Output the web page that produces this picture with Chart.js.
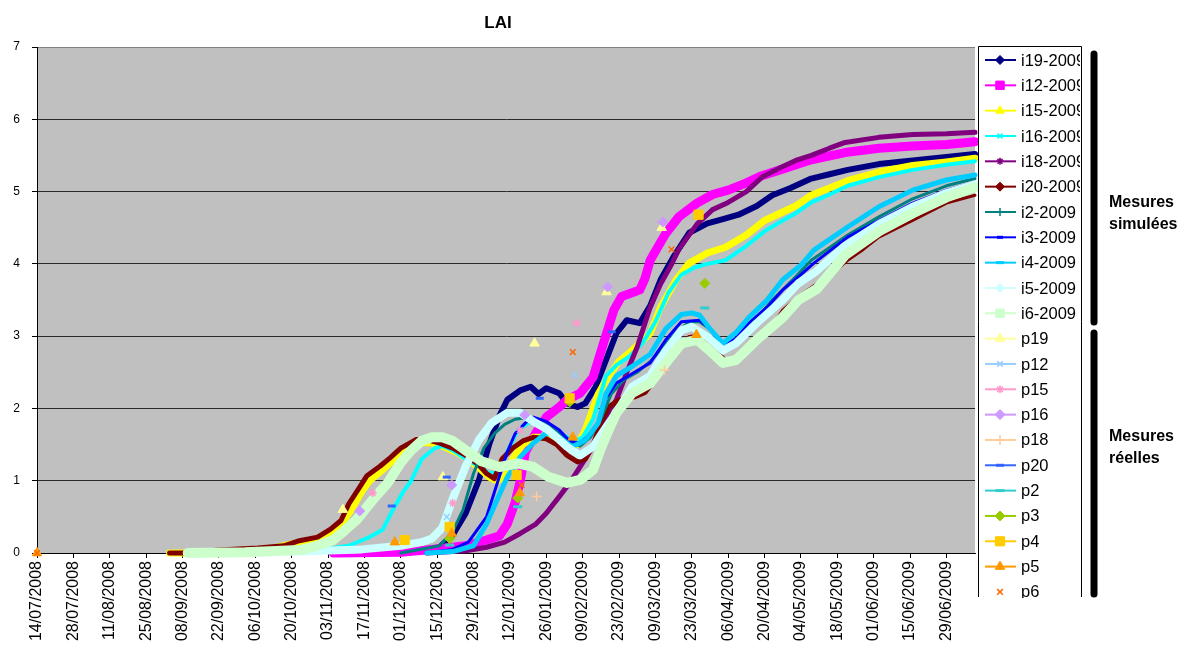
<!DOCTYPE html>
<html>
<head>
<meta charset="utf-8">
<title>LAI</title>
<script src="https://cdn.jsdelivr.net/npm/chart.js@4.4.0/dist/chart.umd.min.js"></script>
<style>
  html, body { margin: 0; padding: 0; background: #ffffff; }
  canvas { display: block; }
</style>
</head>
<body>
<canvas id="lai" width="1184" height="648"></canvas>
<script>
// Day 0 = 14/07/2008; x values are days since that date.
const startYear = 2008, startMonth = 6, startDay = 14;
const dayTickStep = 14;
const dayMax = 361;
const yTicks = [0, 1, 2, 3, 4, 5, 6, 7];

// ---- simulated LAI (one reading list per plot) ----
const i19Days = [132,145,155,160,165,170,174,178,181,186,190,193,196,201,204,208,211,215,219,223,227,232,236,240,245,251,258,264,270,277,283,290,298,305,312,324,337,350,361];
const i19Vals = [0,0.02,0.08,0.25,0.55,1.0,1.5,1.9,2.12,2.25,2.3,2.2,2.28,2.21,2.07,2.02,2.07,2.3,2.67,3.04,3.22,3.18,3.42,3.78,4.1,4.43,4.56,4.62,4.68,4.8,4.95,5.05,5.18,5.24,5.3,5.38,5.43,5.48,5.52];

const i12Days = [114,140,155,165,173,178,181,184,186,188,192,196,201,204,209,214,218,222,225,229,232,234,236,240,242,247,254,260,266,273,279,286,298,311,324,337,350,361];
const i12Vals = [0,0.01,0.06,0.1,0.18,0.24,0.4,0.7,1.0,1.4,1.66,1.88,2.02,2.12,2.21,2.43,2.9,3.36,3.55,3.6,3.64,3.8,4.05,4.3,4.42,4.65,4.84,4.96,5.02,5.12,5.22,5.3,5.44,5.54,5.6,5.63,5.65,5.69];

const i15Days = [51,58,70,90,101,108,113,117,121,125,128,133,137,141,147,151,156,161,166,170,174,177,180,183,187,191,196,200,204,208,211,216,220,224,229,236,240,246,251,258,265,273,280,286,292,298,305,312,324,337,350,361];
const i15Vals = [0,0,0.02,0.06,0.15,0.2,0.28,0.4,0.6,0.85,1.0,1.15,1.28,1.4,1.52,1.53,1.48,1.4,1.3,1.18,1.05,1.0,1.05,1.3,1.5,1.6,1.6,1.55,1.5,1.5,1.7,2.2,2.45,2.65,2.8,3.04,3.4,3.78,4.01,4.15,4.23,4.4,4.6,4.7,4.8,4.95,5.05,5.15,5.27,5.36,5.41,5.46];

const i16Days = [90,100,110,120,128,133,137,141,144,148,153,156,160,165,170,174,177,181,185,189,193,198,203,207,210,214,219,223,228,233,238,243,248,253,258,265,273,280,286,292,298,305,312,324,337,350,361];
const i16Vals = [0,0.02,0.05,0.1,0.22,0.32,0.6,0.85,1.0,1.3,1.45,1.48,1.42,1.3,1.2,1.1,1.12,1.4,1.7,1.8,1.85,1.75,1.62,1.55,1.6,1.85,2.45,2.6,2.72,2.9,3.2,3.6,3.85,3.95,4.0,4.05,4.25,4.45,4.58,4.7,4.85,4.96,5.08,5.2,5.3,5.37,5.42];

const i18Days = [150,165,173,180,186,192,196,201,205,209,214,218,223,227,231,236,240,244,247,254,260,266,273,279,286,292,298,305,311,324,337,350,361];
const i18Vals = [0,0.03,0.08,0.15,0.27,0.4,0.55,0.78,0.97,1.19,1.47,1.8,2.12,2.5,2.85,3.4,3.72,3.98,4.2,4.55,4.75,4.85,5.0,5.2,5.33,5.43,5.5,5.6,5.68,5.75,5.79,5.8,5.82];

const i20Days = [51,58,62,70,85,95,101,108,113,117,120,124,127,132,136,140,146,150,155,160,165,170,173,176,179,183,187,191,196,200,204,208,211,214,217,220,224,230,234,240,246,251,255,260,265,270,276,282,287,293,300,306,312,318,324,337,350,361];
const i20Vals = [0,0,0.02,0.04,0.07,0.1,0.17,0.22,0.33,0.45,0.68,0.9,1.07,1.2,1.32,1.45,1.57,1.57,1.52,1.45,1.35,1.22,1.1,1.03,1.3,1.45,1.55,1.6,1.58,1.5,1.35,1.26,1.3,1.5,1.8,2.02,2.12,2.16,2.22,2.5,2.8,2.98,3.0,2.85,2.65,2.7,2.9,3.1,3.36,3.55,3.72,3.87,4.05,4.2,4.37,4.6,4.84,4.95];

const i2Days = [140,155,160,164,168,172,176,180,184,188,192,196,201,205,209,213,217,221,226,231,236,241,246,251,255,259,263,266,270,276,283,290,298,312,324,337,350,361];
const i2Vals = [0,0.1,0.3,0.6,1.1,1.45,1.65,1.78,1.85,1.87,1.85,1.78,1.65,1.52,1.48,1.6,1.85,2.2,2.4,2.5,2.65,2.85,3.05,3.2,3.2,3.1,2.9,2.85,2.95,3.2,3.5,3.75,4.05,4.4,4.65,4.9,5.08,5.18];

const i3Days = [150,160,166,169,173,177,181,184,188,191,196,201,205,209,213,216,219,223,229,236,242,248,255,259,262,264,269,274,281,287,294,299,312,324,337,350,361];
const i3Vals = [0,0.05,0.15,0.3,0.5,0.95,1.4,1.65,1.8,1.88,1.82,1.7,1.55,1.52,1.65,1.8,2.15,2.35,2.48,2.63,2.95,3.2,3.22,3.1,2.95,2.85,2.97,3.18,3.4,3.64,3.85,4.01,4.37,4.6,4.84,5.02,5.13];

const i4Days = [150,160,168,173,177,181,186,191,196,201,206,211,216,219,223,229,236,242,248,252,255,259,264,269,274,281,287,294,299,312,324,337,350,361];
const i4Vals = [0,0.02,0.1,0.4,0.73,1.05,1.33,1.52,1.66,1.6,1.47,1.56,1.8,2.2,2.45,2.58,2.75,3.1,3.3,3.32,3.29,3.1,2.9,3.05,3.26,3.5,3.78,3.98,4.19,4.51,4.79,5.02,5.16,5.23];

const i5Days = [75,100,125,140,148,152,156,160,165,170,175,181,186,191,196,200,204,209,214,219,224,229,236,242,248,252,258,264,269,277,287,293,300,311,324,337,350,361];
const i5Vals = [0,0.02,0.05,0.1,0.15,0.2,0.35,0.75,1.2,1.56,1.8,1.94,1.94,1.82,1.72,1.6,1.47,1.35,1.47,1.74,2.0,2.3,2.45,2.8,3.08,3.13,2.99,2.8,2.9,3.18,3.5,3.73,3.9,4.25,4.55,4.79,4.98,5.1];

const i6Days = [58,80,101,108,114,118,123,130,135,140,144,148,152,156,160,165,171,178,185,191,197,204,209,214,217,220,223,229,236,242,248,254,259,264,269,277,287,293,300,311,324,337,350,361];
const i6Vals = [0,0.01,0.04,0.1,0.18,0.3,0.46,0.77,0.97,1.25,1.42,1.55,1.6,1.6,1.55,1.42,1.27,1.19,1.24,1.19,1.05,0.97,1.01,1.15,1.45,1.7,1.94,2.21,2.35,2.63,2.9,2.95,2.8,2.63,2.67,2.95,3.26,3.5,3.65,4.12,4.45,4.7,4.92,5.06];

// ---- field measurements ----
const p19Days = [117.7,156.2,191.5,219.2,240.4];
const p19Vals = [0.6,1.05,2.9,3.61,4.5];
const p12Days = [157.7,207];
const p12Vals = [0.5,2.46];
const p15Days = [129.2,160,185.8,207.7];
const p15Vals = [0.83,0.69,1.7,3.18];
const p16Days = [124.2,159.6,187.7,219.6,240.8];
const p16Vals = [0.58,0.94,1.91,3.68,4.58];
const p18Days = [192.3,241.5];
const p18Vals = [0.78,2.53];
const p20Days = [136.5,157.7,193.5,221.2];
const p20Vals = [0.65,1.05,2.14,3.06];
const p2Days = [158.8,185,257];
const p2Vals = [0.11,0.64,3.39];
const p3Days = [158.8,185,205,257];
const p3Vals = [0.2,0.76,2.09,3.73];
const p4Days = [141.5,158.8,184.6,205,254.6];
const p4Vals = [0.18,0.36,1.08,2.14,4.68];
const p5Days = [0,137.7,159.6,185.8,206.2,253.8];
const p5Vals = [0,0.15,0.27,0.83,1.6,3.02];
const p6Days = [0,186.5,206.2,244.2];
const p6Vals = [0,0.94,2.78,4.2];

const seriesNames = ['i19-2009','i12-2009','i15-2009','i16-2009','i18-2009','i20-2009','i2-2009','i3-2009','i4-2009','i5-2009','i6-2009',
                     'p19','p12','p15','p16','p18','p20','p2','p3','p4','p5','p6'];

// ---- helpers ----
function toPoints(days, vals) { return days.map((d, k) => ({ x: d, y: vals[k] })); }
function dayLabel(d) {
  const t = new Date(Date.UTC(startYear, startMonth, startDay + d));
  const dd = String(t.getUTCDate()).padStart(2, '0');
  const mm = String(t.getUTCMonth() + 1).padStart(2, '0');
  return dd + '/' + mm + '/' + t.getUTCFullYear();
}

const FONT = "'Liberation Sans', Arial, sans-serif";

// simulated curves: colour, band width, legend marker
const simStyles = [
  { data: toPoints(i19Days, i19Vals), color: '#000080', width: 6,  marker: 'rectRot',  r: 4.5 },
  { data: toPoints(i12Days, i12Vals), color: '#FF00FF', width: 9,  marker: 'rect',     r: 6 },
  { data: toPoints(i15Days, i15Vals), color: '#FFFF00', width: 7,  marker: 'triangle', r: 5 },
  { data: toPoints(i16Days, i16Vals), color: '#00FFFF', width: 4,  marker: 'crossRot', r: 3.5, stroke: true },
  { data: toPoints(i18Days, i18Vals), color: '#800080', width: 5,  marker: 'star',     r: 3.5, stroke: true },
  { data: toPoints(i20Days, i20Vals), color: '#800000', width: 5,  marker: 'rectRot',  r: 4.5, thinAfter: 262, thinWidth: 3 },
  { data: toPoints(i2Days,  i2Vals),  color: '#008080', width: 3,  marker: 'cross',    r: 4, stroke: true },
  { data: toPoints(i3Days,  i3Vals),  color: '#0000FF', width: 3,  marker: 'line',     r: 3, stroke: true, bw: 3 },
  { data: toPoints(i4Days,  i4Vals),  color: '#00CCFF', width: 5,  marker: 'line',     r: 4, stroke: true, bw: 3 },
  { data: toPoints(i5Days,  i5Vals),  color: '#CCFFFF', width: 8,  marker: 'rectRot',  r: 4.5 },
  { data: toPoints(i6Days,  i6Vals),  color: '#CCFFCC', width: 10, marker: 'rect',     r: 6 }
];

// measured points: colour, marker
const measStyles = [
  { data: toPoints(p19Days, p19Vals), color: '#FFFF99', marker: 'triangle', r: 5.5 },
  { data: toPoints(p12Days, p12Vals), color: '#99CCFF', marker: 'crossRot', r: 4, stroke: true },
  { data: toPoints(p15Days, p15Vals), color: '#FF99CC', marker: 'star',     r: 4, stroke: true },
  { data: toPoints(p16Days, p16Vals), color: '#CC99FF', marker: 'rectRot',  r: 5 },
  { data: toPoints(p18Days, p18Vals), color: '#FFCC99', marker: 'cross',    r: 5, stroke: true },
  { data: toPoints(p20Days, p20Vals), color: '#3366FF', marker: 'line',     r: 4, stroke: true, bw: 3 },
  { data: toPoints(p2Days,  p2Vals),  color: '#33CCCC', marker: 'line',     r: 4.5, stroke: true, bw: 3 },
  { data: toPoints(p3Days,  p3Vals),  color: '#99CC00', marker: 'rectRot',  r: 5 },
  { data: toPoints(p4Days,  p4Vals),  color: '#FFCC00', marker: 'rect',     r: 6.5 },
  { data: toPoints(p5Days,  p5Vals),  color: '#FF9900', marker: 'triangle', r: 5.5 },
  { data: toPoints(p6Days,  p6Vals),  color: '#FF6600', marker: 'crossRot', r: 4, stroke: true, noLine: true }
];

const allStyles = simStyles.concat(measStyles);

const datasets = allStyles.map((s, k) => {
  const isSim = k < simStyles.length;
  const ds = {
    label: seriesNames[k],
    data: s.data,
    borderColor: s.color,
    backgroundColor: s.color,
    borderWidth: isSim ? s.width : 0,
    showLine: isSim,
    tension: 0,
    borderJoinStyle: 'round',
    borderCapStyle: 'round',
    pointStyle: s.marker,
    pointRadius: isSim ? 0 : s.r,
    pointBorderColor: s.color,
    pointBackgroundColor: s.color,
    pointBorderWidth: s.bw ? s.bw : (s.stroke ? 1.5 : 1),
    pointHoverRadius: 0,
    clip: false,
    order: -k
  };
  if (s.thinAfter) {
    ds.segment = { borderWidth: (c) => (c.p0.parsed.x >= s.thinAfter ? s.thinWidth : s.width) };
  }
  return ds;
});

// grey plot area and white page
const backdrop = {
  id: 'backdrop',
  beforeDraw(chart) {
    const c = chart.ctx, a = chart.chartArea;
    c.save();
    c.fillStyle = '#ffffff';
    c.fillRect(0, 0, chart.width, chart.height);
    c.fillStyle = '#C0C0C0';
    c.fillRect(a.left, a.top, a.right - a.left, a.bottom - a.top);
    c.restore();
  }
};

// title, side legend and group brackets
const decorations = {
  id: 'decorations',
  afterDraw(chart) {
    const c = chart.ctx;
    c.save();
    // title
    c.fillStyle = '#000';
    c.font = 'bold 17px ' + FONT;
    c.textAlign = 'center';
    c.textBaseline = 'middle';
    c.fillText('LAI', 498, 23);

    // legend box
    const bx0 = 978, bx1 = 1081, by0 = 46, by1 = 597;
    c.fillStyle = '#ffffff';
    c.fillRect(bx0, by0, bx1 - bx0, by1 - by0);
    c.strokeStyle = '#000';
    c.lineWidth = 1;
    c.beginPath();
    c.moveTo(bx0 + 0.5, by1); c.lineTo(bx0 + 0.5, by0 + 0.5); c.lineTo(bx1 + 0.5, by0 + 0.5); c.lineTo(bx1 + 0.5, by1);
    c.stroke();

    c.save();
    c.beginPath();
    c.rect(bx0 + 1, by0 + 1, bx1 - bx0 - 2, by1 - by0);
    c.clip();
    chart.data.datasets.forEach((ds, k) => {
      const s = allStyles[k];
      const y = 60 + k * 25.33;
      if (!s.noLine) {
        c.strokeStyle = ds.borderColor;
        c.lineWidth = 2;
        c.beginPath();
        c.moveTo(985, y);
        c.lineTo(1016, y);
        c.stroke();
      }
      c.fillStyle = ds.pointBackgroundColor;
      c.strokeStyle = ds.pointBorderColor;
      c.lineWidth = ds.pointBorderWidth;
      Chart.helpers.drawPoint(c, { pointStyle: s.marker, rotation: 0, radius: s.r, borderWidth: ds.pointBorderWidth }, 1000, y);
      c.fillStyle = '#000';
      c.font = '16.5px ' + FONT;
      c.textAlign = 'left';
      c.textBaseline = 'middle';
      c.fillText(ds.label, 1021, y + 1);
    });
    c.restore();

    // group brackets
    c.strokeStyle = '#000';
    c.lineWidth = 7;
    c.lineCap = 'round';
    c.beginPath();
    c.moveTo(1094, 54); c.lineTo(1094, 322);
    c.moveTo(1094, 333); c.lineTo(1094, 594);
    c.stroke();

    c.fillStyle = '#000';
    c.font = 'bold 16px ' + FONT;
    c.textAlign = 'left';
    c.textBaseline = 'middle';
    c.fillText('Mesures', 1109, 203);
    c.fillText('simulées', 1109, 225);
    c.fillText('Mesures', 1109, 437);
    c.fillText('réelles', 1109, 459);
    c.restore();
  }
};

new Chart(document.getElementById('lai'), {
  type: 'line',
  data: { datasets },
  plugins: [backdrop, decorations],
  options: {
    responsive: false,
    animation: false,
    events: [],
    layout: { padding: { top: 47, right: 209, left: 0, bottom: 0 } },
    plugins: {
      legend: { display: false },
      title: { display: false },
      tooltip: { enabled: false }
    },
    scales: {
      x: {
        type: 'linear',
        min: 0,
        max: dayMax,
        afterFit(scale) { scale.height = 95; },
        border: { color: '#000', width: 1 },
        grid: { drawOnChartArea: false, drawTicks: true, tickLength: 5, color: '#000' },
        ticks: {
          stepSize: dayTickStep,
          includeBounds: false,
          autoSkip: false,
          minRotation: 90,
          maxRotation: 90,
          padding: 3,
          color: '#000',
          font: { family: FONT, size: 16 },
          callback: (v) => dayLabel(v)
        }
      },
      y: {
        min: yTicks[0],
        max: yTicks[yTicks.length - 1],
        afterFit(scale) { scale.width = 37; },
        afterBuildTicks(scale) { scale.ticks = yTicks.map(v => ({ value: v })); },
        border: { color: '#000', width: 1 },
        grid: {
          color: (ctx) => (ctx.tick && ctx.tick.value === 7 ? '#808080' : '#2a2a2a'),
          tickColor: '#000',
          tickLength: 5,
          lineWidth: 1
        },
        ticks: {
          padding: 12,
          color: '#000',
          font: { family: FONT, size: 12 }
        }
      }
    }
  }
});
</script>
</body>
</html>
